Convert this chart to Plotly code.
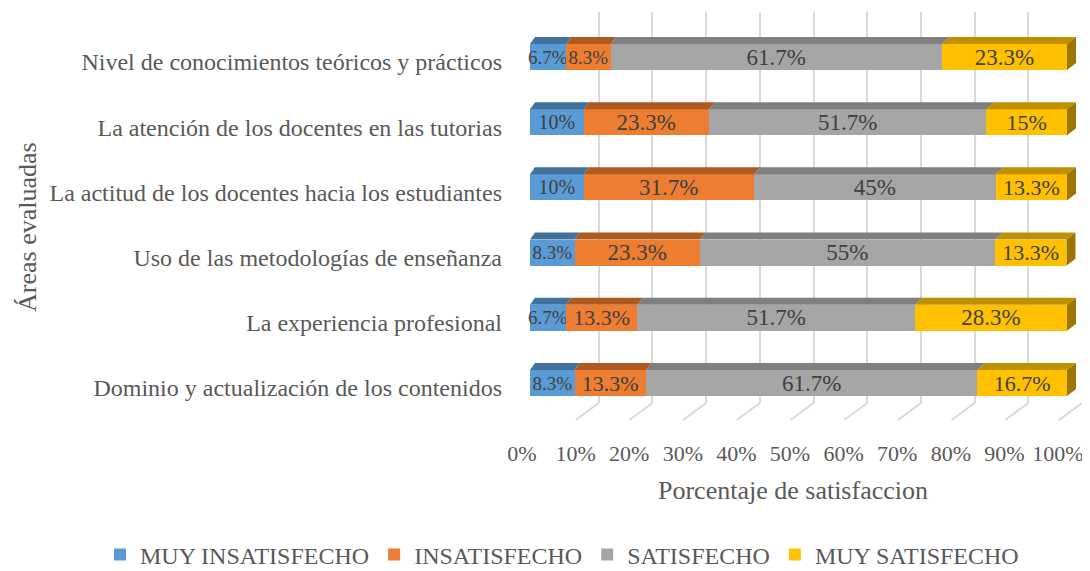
import plotly.graph_objects as go

# ---------------- data ----------------
categories = [
    "Nivel de conocimientos teóricos y prácticos",
    "La atención de los docentes en las tutorias",
    "La actitud de los docentes hacia los estudiantes",
    "Uso de las metodologías de enseñanza",
    "La experiencia profesional",
    "Dominio y actualización de los contenidos",
]
muy_insatisfecho = [6.7, 10, 10, 8.3, 6.7, 8.3]
insatisfecho = [8.3, 23.3, 31.7, 23.3, 13.3, 13.3]
satisfecho = [61.7, 51.7, 45, 55, 51.7, 61.7]
muy_satisfecho = [23.3, 15, 13.3, 13.3, 28.3, 16.7]
series_names = ["MUY INSATISFECHO", "INSATISFECHO", "SATISFECHO", "MUY SATISFECHO"]
tick_values = list(range(0, 101, 10))
x_title = "Porcentaje de satisfaccion"
y_title = "Áreas evaluadas"

# ---------------- styling ----------------
OFF = 8                 # default body margin of the html page
W, H = 1090 - OFF, 571 - OFF
FONT = "Liberation Serif, Times New Roman, serif"
front_colors = ["#5B9BD5", "#ED7D31", "#A5A5A5", "#FFC000"]
top_colors = ["#41719C", "#AE5A21", "#7F7F7F", "#BF9000"]
side_color = "#9C7600"
grid_color = "#D9D9D9"
text_color = "#595959"
label_color = "#404040"

BAR_W = 0.4           # bar thickness in category units
PX_PER_X = 537 / 100  # pixels per percent on the bar plane
PX_PER_Y = 65.2       # pixels per category row
DEPTH_DY = 7 / PX_PER_Y
X_MAX = 102           # a little room so the 100% stacks stay inside the range


def fx(p):
    return (p - OFF) / W


def fy(p):
    return 1 - (p - OFF) / H


def depth_dx(xv):
    return (5 + 4 * xv / 100) / PX_PER_X


def label_size(v):
    if v < 10:
        return 19
    if v <= 10:
        return 20
    if v < 20:
        return 22
    return 23


rows = list(range(len(categories)))
all_series = [muy_insatisfecho, insatisfecho, satisfecho, muy_satisfecho]

fig = go.Figure()

# front faces
for name, vals, col in zip(series_names, all_series, front_colors):
    fig.add_trace(go.Bar(
        y=rows, x=vals, orientation="h", name=name, width=BAR_W,
        marker=dict(color=col, line=dict(width=0)),
        text=[f"{v:g}%" for v in vals], textposition="inside",
        insidetextanchor="middle", textangle=0, constraintext="none",
        cliponaxis=False,
        textfont=dict(family=FONT, size=[label_size(v) for v in vals],
                      color=label_color),
        xaxis="x3", yaxis="y3", hoverinfo="skip",
    ))

# top faces (3D effect), computed from cumulative values
cum = [0.0] * len(rows)
for vals, tcol in zip(all_series, top_colors):
    px, py = [], []
    for i, v in enumerate(vals):
        x0, x1 = cum[i], cum[i] + v
        yt = i - BAR_W / 2
        px += [x0, x1, x1 + depth_dx(x1), x0 + depth_dx(x0), x0, None]
        py += [yt, yt, yt - DEPTH_DY, yt - DEPTH_DY, yt, None]
        cum[i] = x1
    fig.add_trace(go.Scatter(
        x=px, y=py, mode="lines", fill="toself", fillcolor=tcol,
        line=dict(width=0, color=tcol), showlegend=False, hoverinfo="skip",
        xaxis="x3", yaxis="y3",
    ))

# right side faces of the stack end
sx, sy = [], []
for i, total in enumerate(cum):
    yt, yb = i - BAR_W / 2, i + BAR_W / 2
    d = depth_dx(total)
    sx += [total, total + d, total + d, total, total, None]
    sy += [yt, yt - DEPTH_DY, yb - DEPTH_DY, yb, yt, None]
fig.add_trace(go.Scatter(
    x=sx, y=sy, mode="lines", fill="toself", fillcolor=side_color,
    line=dict(width=0, color=side_color), showlegend=False, hoverinfo="skip",
    xaxis="x3", yaxis="y3",
))

# invisible anchor trace so that the floor tick-label axis is rendered
fig.add_trace(go.Scatter(
    x=tick_values, y=[0] * len(tick_values), mode="markers",
    marker=dict(opacity=0), showlegend=False, hoverinfo="skip",
    xaxis="x2", yaxis="y2",
))

# floor diagonal grid lines
shapes = []
for v in tick_values:
    shapes.append(dict(
        type="line", xref="x", yref="paper", xsizemode="pixel", xanchor=v,
        x0=-23, x1=0, y0=fy(420), y1=fy(403),
        line=dict(color=grid_color, width=2), layer="below",
    ))

fig.update_layout(
    width=W, height=H,
    margin=dict(l=0, r=0, t=0, b=0, autoexpand=False),
    paper_bgcolor="white", plot_bgcolor="rgba(0,0,0,0)",
    barmode="stack",
    showlegend=True,
    hovermode=False,
    font=dict(family=FONT, color=text_color),
    legend=dict(
        orientation="h", x=fx(562), xanchor="center", y=fy(555), yanchor="middle",
        font=dict(family=FONT, size=24, color=text_color), traceorder="normal",
        itemwidth=30,
    ),
    # back-wall grid
    xaxis=dict(domain=[fx(545), fx(1082)], range=[0, 100], anchor="y",
               tickvals=tick_values, showticklabels=False, showgrid=True,
               gridcolor=grid_color, gridwidth=2, zeroline=False, showline=False,
               ticks="", automargin=False),
    yaxis=dict(domain=[fy(403), fy(12)], range=[0, 1], anchor="x", visible=False),
    # floor tick labels
    xaxis2=dict(domain=[fx(522), fx(1058)], range=[0, 100], anchor="y2",
                tickvals=tick_values, ticktext=[f"{v}%" for v in tick_values],
                showgrid=False, zeroline=False, showline=False, ticks="",
                ticklabelstandoff=14, automargin=False,
                tickfont=dict(family=FONT, size=22, color=text_color)),
    yaxis2=dict(domain=[fy(424), fy(418)], range=[0, 1], anchor="x2", visible=False),
    # bars
    xaxis3=dict(domain=[fx(530), fx(530 + PX_PER_X * X_MAX)], range=[0, X_MAX],
                anchor="y3", visible=False),
    yaxis3=dict(domain=[fy(415.6), fy(24.4)], range=[5.5, -0.5], anchor="x3",
                tickvals=rows, ticktext=categories, ticks="", showgrid=False,
                zeroline=False, showline=False, ticklabelstandoff=27,
                ticklabelshift=-5, automargin=False,
                tickfont=dict(family=FONT, size=24, color=text_color)),
    shapes=shapes,
    annotations=[
        dict(text=x_title, xref="paper", yref="paper", x=fx(793), y=fy(490),
             xanchor="center", yanchor="middle", showarrow=False,
             font=dict(family=FONT, size=26, color=text_color)),
        dict(text=y_title, xref="paper", yref="paper", x=fx(27), y=fy(227),
             xanchor="center", yanchor="middle", showarrow=False, textangle=-90,
             font=dict(family=FONT, size=26, color=text_color)),
    ],
)

fig.write_html("out.html")
